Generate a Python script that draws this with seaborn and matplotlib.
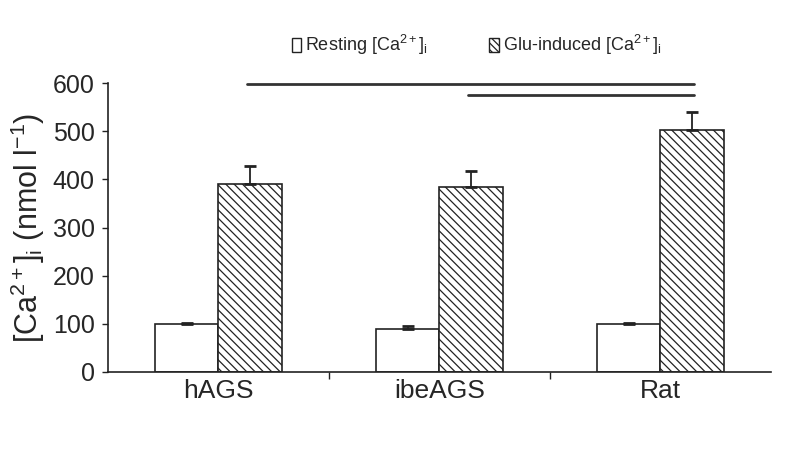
import numpy as np
import pandas as pd
import seaborn as sns
import matplotlib.pyplot as plt
from matplotlib.patches import Patch

groups = ['hAGS', 'ibeAGS', 'Rat']
conditions = ['Resting', 'Glu-induced']
resting = [100, 89, 100]
resting_err = [2, 6, 2]
glu = [391, 384, 503]
glu_err = [37, 33, 37]

sns.set_style('ticks')
plt.rcParams['font.family'] = ['Liberation Sans', 'DejaVu Sans']
plt.rcParams['mathtext.fontset'] = 'custom'
plt.rcParams['mathtext.rm'] = 'Liberation Sans'
plt.rcParams['mathtext.it'] = 'Liberation Sans:italic'
plt.rcParams['hatch.linewidth'] = 0.9
plt.rcParams['hatch.color'] = '#222222'

df = pd.DataFrame({
    'group': groups * 2,
    'cond': [conditions[0]] * 3 + [conditions[1]] * 3,
    'value': resting + glu,
    'err': resting_err + glu_err,
})

fig = plt.figure(figsize=(7.98, 4.76), dpi=100)
ax = fig.add_axes([0.1353, 0.2185, 0.8307, 0.6071])

sns.barplot(data=df, x='group', y='value', hue='cond', order=groups,
            hue_order=conditions, palette=['white', 'white'], width=0.573,
            gap=0, edgecolor='#222222', linewidth=1.2, errorbar=None,
            legend=False, ax=ax)

# hatch the glu bars, add one-sided error bars
bars = ax.patches
for i, p in enumerate(bars):
    cond = conditions[i // 3]
    row = df[(df['cond'] == cond)].iloc[i % 3]
    if cond == 'Glu-induced':
        p.set_hatch('\\\\\\\\')
    cx = p.get_x() + p.get_width() / 2
    ax.errorbar(cx, row['value'], yerr=[[0], [row['err']]], fmt='none',
                ecolor='#222222', elinewidth=1.3, capsize=4, capthick=2)

ax.set_ylim(0, 600)
ax.set_xlim(-0.5, 2.5)
ax.set_yticks(range(0, 601, 100))
ax.tick_params(axis='y', labelsize=18, length=4.5, width=1, color='#222222', pad=5)
ax.tick_params(axis='x', labelsize=19, length=0, pad=5)
ax.set_xticks([0.5, 1.5], minor=True)
ax.tick_params(axis='x', which='minor', length=5, width=1, color='#222222')
for s in ['top', 'right']:
    ax.spines[s].set_visible(False)
for s in ['left', 'bottom']:
    ax.spines[s].set_color('#222222')
    ax.spines[s].set_linewidth(1.2)
ax.set_xlabel('')
ax.set_ylabel(r'[Ca$^{2+}$]$_{\mathrm{i}}$ (nmol l$^{-1}$)', fontsize=22, labelpad=4)

# significance lines
ax.plot([0.13, 2.15], [598, 598], color='#333333', lw=2, clip_on=False)
ax.plot([1.13, 2.15], [575, 575], color='#333333', lw=2, clip_on=False)

handles = [Patch(facecolor='white', edgecolor='#222222', lw=1),
           Patch(facecolor='white', edgecolor='#222222', lw=1, hatch='\\\\\\\\\\')]
labels = [r'Resting [Ca$^{2+}$]$_{\mathrm{i}}$',
          r'Glu-induced [Ca$^{2+}$]$_{\mathrm{i}}$']
fig.legend(handles, labels, loc='center left', bbox_to_anchor=(0.345, 0.905),
           ncol=2, frameon=False, fontsize=13, handlelength=0.55,
           handleheight=0.75, handletextpad=0.2, columnspacing=3.4)

fig.savefig('out.png', dpi=100)
